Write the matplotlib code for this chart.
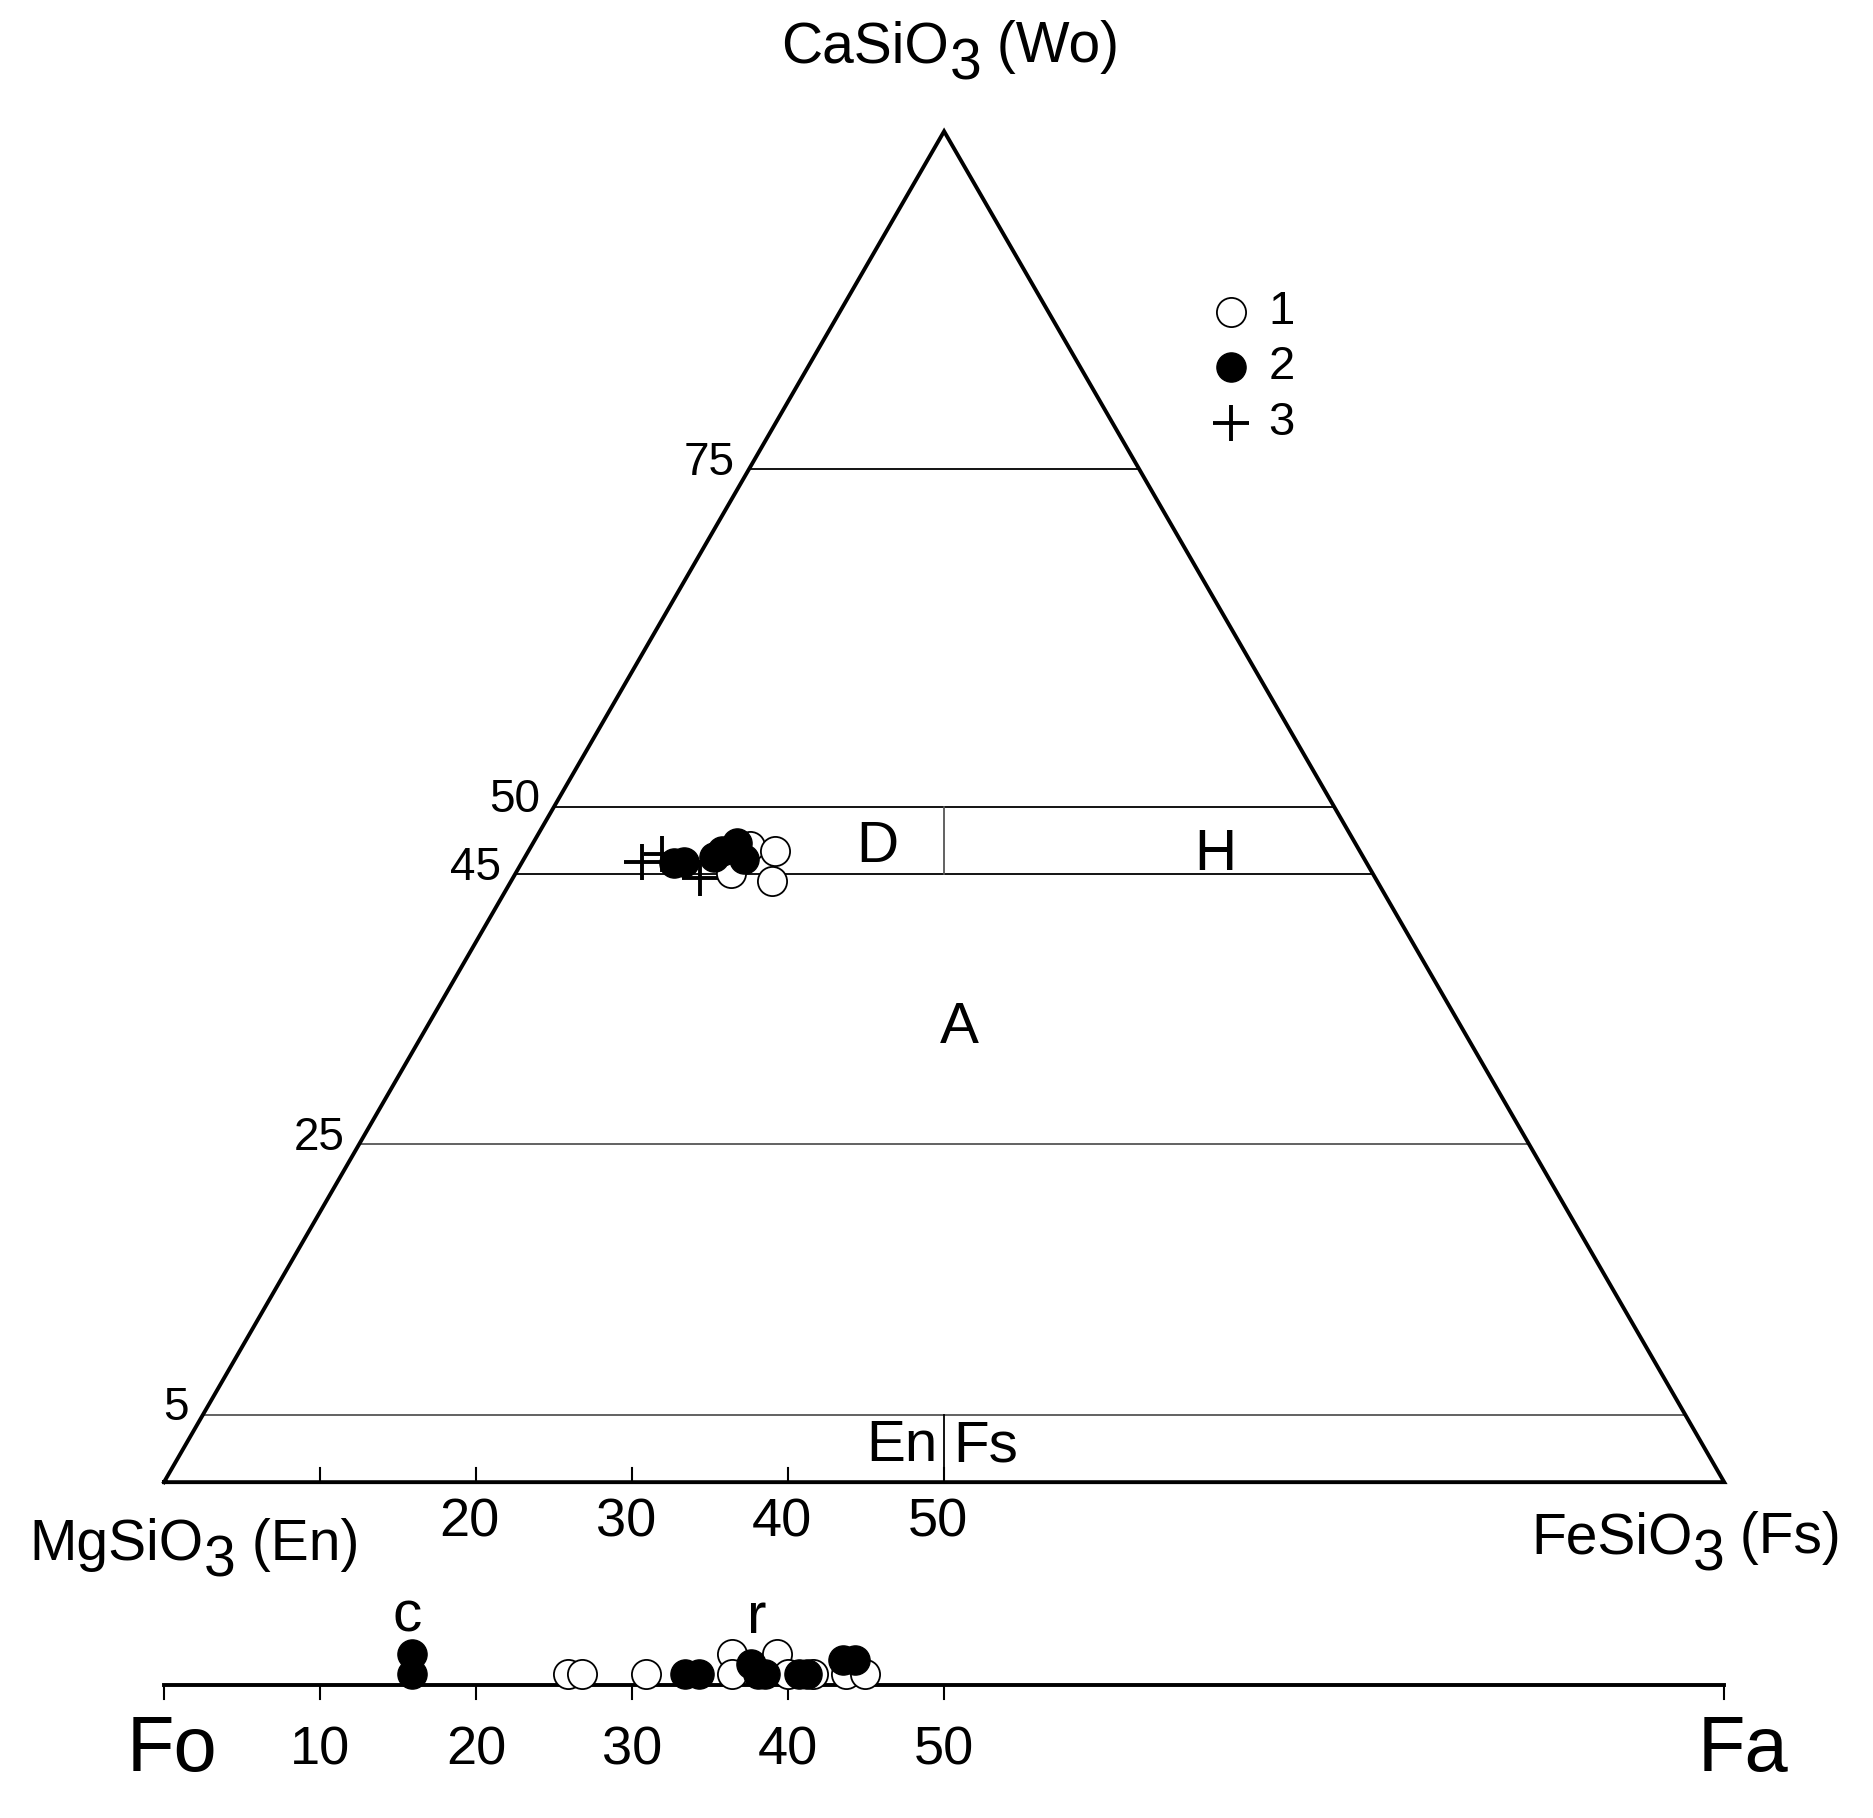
import matplotlib
matplotlib.use("Agg")
import matplotlib.pyplot as plt
import numpy as np

plt.rcParams['font.family'] = ['Liberation Sans', 'DejaVu Sans']

# Pyroxene data (Wo %, Fs %) per group
g1_wo = [45.1, 47.1, 46.7, 44.5]
g1_fs = [13.8, 14.0, 15.8, 16.7]
g2_wo = [45.8, 45.9, 46.3, 46.7, 47.3, 46.1]
g2_fs = [9.8, 10.4, 12.1, 12.4, 13.1, 14.1]
g3_wo = [45.9, 46.5, 44.7]
g3_fs = [7.7, 8.7, 12.0]

# Olivine data (Fa %, stack level)
ol1_fa = [25.9, 26.8, 30.9, 36.4, 36.4, 39.3, 40.0, 41.6, 43.7, 44.9]
ol1_lv = [0, 0, 0, 1, 0, 1, 0, 0, 0, 0]
ol2_fa = [15.9, 15.9, 33.4, 34.3, 37.6, 38.1, 38.5, 40.7, 41.2, 43.5, 44.3]
ol2_lv = [1, 0, 0, 0, 0.5, 0, 0, 0, 0, 0.7, 0.7]

wo_lines = [75, 50, 45, 25, 5]
base_ticks = [10, 20, 30, 40, 50]
base_labels = ['20', '30', '40', '50']
ol_ticks = [0, 10, 20, 30, 40, 50, 100]
ol_labels = ['10', '20', '30', '40', '50']

H = np.sqrt(3) / 2

def tern(wo, fs):
    wo = np.asarray(wo, float); fs = np.asarray(fs, float)
    return fs + wo / 2, wo * H

fig = plt.figure(figsize=(18.74, 18.18), dpi=100)
ax = fig.add_axes([0, 0, 1, 1])
ax.set_xlim(-10.51, 109.6)
ax.set_ylim(-21.53, 95.02)
ax.axis('off')

# triangle
tx, ty = tern([0, 0, 100, 0], [0, 100, 0, 0])
ax.plot(tx, ty, color='black', lw=2.8, solid_joinstyle='miter', zorder=3)

# horizontal Wo lines
for w in wo_lines:
    x0, y0 = tern(w, 0)
    x1, y1 = tern(w, 100 - w)
    col = '#555555' if w in (25, 5) else 'black'
    ax.plot([x0, x1], [y0, y1], color=col, lw=1.3, zorder=2)
    ax.text(x0 - 0.9, y0 + 0.4, str(w), ha='right', va='center', fontsize=33)

# vertical dividers at 50
ax.plot([50, 50], [45 * H, 50 * H], color='#555555', lw=1.3)
ax.plot([50, 50], [0, 5 * H], color='black', lw=1.3)

# base ticks
for t in base_ticks:
    ax.plot([t, t], [0, 0.9], color='black', lw=1.5)
for t, l in zip(base_ticks[1:], base_labels):
    ax.text(t - 0.4, -2.6, l, ha='center', va='center', fontsize=39)

# region labels
ax.text(45.7, 47.0 * H, 'D', ha='center', va='center', fontsize=42)
ax.text(67.4, 46.4 * H, 'H', ha='center', va='center', fontsize=42)
ax.text(51.0, 33.6 * H, 'A', ha='center', va='center', fontsize=42)
ax.text(49.6, 2.3, 'En', ha='right', va='center', fontsize=42)
ax.text(50.6, 2.3, 'Fs', ha='left', va='center', fontsize=42)

# pyroxene data
ms = 21
x, y = tern(g1_wo, g1_fs)
ax.scatter(x, y, s=ms**2, facecolor='white', edgecolor='black', lw=1.3, zorder=4)
x, y = tern(g2_wo, g2_fs)
ax.scatter(x, y, s=ms**2, facecolor='black', edgecolor='black', zorder=5)
x, y = tern(g3_wo, g3_fs)
ax.scatter(x, y, s=26**2, marker='+', color='black', lw=2.8, zorder=6)

# legend
leg_x = 68.4
for i, (lab, yy) in enumerate(zip(['1', '2', '3'], [75.0, 71.5, 67.9])):
    if i == 0:
        ax.scatter([leg_x], [yy], s=ms**2, facecolor='white', edgecolor='black', lw=1.3)
    elif i == 1:
        ax.scatter([leg_x], [yy], s=ms**2, facecolor='black', edgecolor='black')
    else:
        ax.scatter([leg_x], [yy], s=26**2, marker='+', color='black', lw=2.8)
    ax.text(leg_x + 2.4, yy, lab, ha='left', va='center', fontsize=34)

# olivine axis
OLY = -13.0
ax.plot([0, 100], [OLY, OLY], color='black', lw=2.8, zorder=3)
for t in ol_ticks:
    ax.plot([t, t], [OLY, OLY - 0.9], color='black', lw=1.5)
for t, l in zip(ol_ticks[1:6], ol_labels):
    ax.text(t, -17.2, l, ha='center', va='center', fontsize=39)
ax.text(0.5, -17.2, 'Fo', ha='center', va='center', fontsize=56)
ax.text(101.2, -17.2, 'Fa', ha='center', va='center', fontsize=56)
ax.text(15.6, -8.6, 'c', ha='center', va='center', fontsize=42)
ax.text(38.0, -8.7, 'r', ha='center', va='center', fontsize=42)

lv_step = 1.3
ax.scatter(ol1_fa, OLY + 0.7 + np.array(ol1_lv) * lv_step, s=ms**2,
           facecolor='white', edgecolor='black', lw=1.3, zorder=4)
ax.scatter(ol2_fa, OLY + 0.7 + np.array(ol2_lv) * lv_step, s=ms**2,
           facecolor='black', edgecolor='black', zorder=5)

# labels with non-shrunk subscript
fig.canvas.draw()
r = fig.canvas.get_renderer()

def formula(xd, yd, pre, sub, post, fs, ha):
    parts = [pre, sub, post]
    tmp = [ax.text(0, 0, p, fontsize=fs) for p in parts]
    ws = [t.get_window_extent(r).width for t in tmp]
    for t in tmp:
        t.remove()
    total = sum(ws)
    px, py = ax.transData.transform((xd, yd))
    if ha == 'center':
        start = px - total / 2
    elif ha == 'left':
        start = px
    else:
        start = px - total
    cur = start
    for p, w, dy in zip(parts, ws, [0, -0.3 * fs * 1.389, 0]):
        ax.text(cur, py + dy, p, fontsize=fs, transform=None, ha='left', va='center')
        cur += w

formula(50.4, 92.0, 'CaSiO', '3', ' (Wo)', 41, 'center')
formula(-8.6, -4.0, 'MgSiO', '3', ' (En)', 41, 'left')
formula(107.5, -3.6, 'FeSiO', '3', ' (Fs)', 41, 'right')

fig.savefig('out.png', dpi=100, facecolor='white')
